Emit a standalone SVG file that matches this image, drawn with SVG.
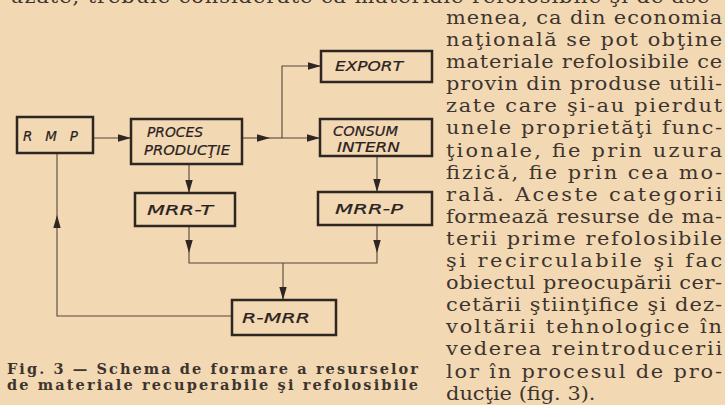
<svg xmlns="http://www.w3.org/2000/svg" width="725" height="405" viewBox="0 0 725 405">
<defs>
<style>
.bg{fill:#f2d9b4}
.box{fill:none;stroke:#2e2622;stroke-width:2.5}
.lbl{font-family:"DejaVu Sans",sans-serif;font-style:oblique;font-size:13.5px;fill:#2a221e;stroke:#2a221e;stroke-width:0.2}
.con{fill:none;stroke:#54463a;stroke-width:1.1}
.body{font-family:"DejaVu Serif",serif;font-size:19px;fill:#3e342e}
.cap{font-family:"DejaVu Serif",serif;font-weight:bold;font-size:14.5px;fill:#3e342e}
</style>
<marker id="ah" markerUnits="userSpaceOnUse" markerWidth="13" markerHeight="8" refX="13" refY="4" orient="auto">
<path d="M0,0.3 L13,4 L0,7.7 z" fill="#2e2622"/>
</marker>
</defs>
<rect class="bg" x="0" y="0" width="725" height="405"/>

<g id="connectors">
<path class="con" d="M93,138 L131,138" marker-end="url(#ah)"/>
<path class="con" d="M242,138 L270,138" marker-end="url(#ah)"/>
<path class="con" d="M270,138 L282,138"/>
<path class="con" d="M282,138 L320,138" marker-end="url(#ah)"/>
<path class="con" d="M282,138 L282,66 L321,66" marker-end="url(#ah)"/>
<path class="con" d="M189,164 L189,193" marker-end="url(#ah)"/>
<path class="con" d="M377,156 L377,192" marker-end="url(#ah)"/>
<path class="con" d="M189,226 L189,253" marker-end="url(#ah)"/>
<path class="con" d="M377,225 L377,253" marker-end="url(#ah)"/>
<path class="con" d="M189,253 L189,263 L377,263 L377,253"/>
<path class="con" d="M283,263 L283,300" marker-end="url(#ah)"/>
<path class="con" d="M232,316 L57,316 L57,215" marker-end="url(#ah)"/>
<path class="con" d="M57,215 L57,153"/>
</g>

<g id="rmp">
<rect class="box" x="17" y="117" width="76" height="36"/>
<text class="lbl" x="23" y="141" textLength="55" lengthAdjust="spacing">RMP</text>
</g>
<g id="proces">
<rect class="box" x="131" y="119" width="111" height="45"/>
<text class="lbl" x="147" y="137" textLength="56" lengthAdjust="spacingAndGlyphs">PROCES</text>
<text class="lbl" x="144" y="155" textLength="86" lengthAdjust="spacingAndGlyphs">PRODUCŢIE</text>
</g>
<g id="export">
<rect class="box" x="321" y="51" width="111" height="31"/>
<text class="lbl" x="335" y="71" textLength="68" lengthAdjust="spacingAndGlyphs">EXPORT</text>
</g>
<g id="consum">
<rect class="box" x="320" y="119" width="112" height="37"/>
<text class="lbl" x="333" y="136" textLength="65" lengthAdjust="spacingAndGlyphs">CONSUM</text>
<text class="lbl" x="337" y="152" textLength="63" lengthAdjust="spacingAndGlyphs">INTERN</text>
</g>
<g id="mrr-t">
<rect class="box" x="135" y="193" width="100" height="33"/>
<text class="lbl" x="147" y="215" textLength="66" lengthAdjust="spacingAndGlyphs">MRR-T</text>
</g>
<g id="mrr-p">
<rect class="box" x="318" y="192" width="114" height="33"/>
<text class="lbl" x="335" y="214" textLength="68" lengthAdjust="spacingAndGlyphs">MRR-P</text>
</g>
<g id="r-mrr">
<rect class="box" x="232" y="300" width="104" height="35"/>
<text class="lbl" x="242" y="323" textLength="68" lengthAdjust="spacingAndGlyphs">R-MRR</text>
</g>

<g id="caption">
<text class="cap" x="7" y="374" textLength="411" lengthAdjust="spacing">Fig. 3 — Schema de formare a resurselor</text>
<text class="cap" x="7" y="390" textLength="411" lengthAdjust="spacing">de materiale recuperabile şi refolosibile</text>
</g>

<g id="toptext" transform="translate(10,0) scale(1.1,1)">
<text class="body" x="0" y="3" textLength="643" lengthAdjust="spacing">uzate, trebuie considerate ca materiale refolosibile şi de ase-</text>
</g>

<g id="bodytext" transform="translate(446,0) scale(1.1,1)">
<text class="body" x="0" y="24" textLength="251" lengthAdjust="spacing">menea, ca din economia</text>
<text class="body" x="0" y="46.1" textLength="251" lengthAdjust="spacing">naţională se pot obţine</text>
<text class="body" x="0" y="68.2" textLength="251" lengthAdjust="spacing">materiale refolosibile ce</text>
<text class="body" x="0" y="90.3" textLength="251" lengthAdjust="spacing">provin din produse utili-</text>
<text class="body" x="0" y="112.4" textLength="251" lengthAdjust="spacing">zate care şi-au pierdut</text>
<text class="body" x="0" y="134.5" textLength="251" lengthAdjust="spacing">unele proprietăţi func-</text>
<text class="body" x="0" y="156.6" textLength="251" lengthAdjust="spacing">ţionale, fie prin uzura</text>
<text class="body" x="0" y="178.7" textLength="251" lengthAdjust="spacing">fizică, fie prin cea mo-</text>
<text class="body" x="0" y="200.8" textLength="251" lengthAdjust="spacing">rală. Aceste categorii</text>
<text class="body" x="0" y="222.9" textLength="251" lengthAdjust="spacing">formează resurse de ma-</text>
<text class="body" x="0" y="245" textLength="251" lengthAdjust="spacing">terii prime refolosibile</text>
<text class="body" x="0" y="267.1" textLength="251" lengthAdjust="spacing">şi recirculabile şi fac</text>
<text class="body" x="0" y="289.2" textLength="251" lengthAdjust="spacing">obiectul preocupării cer-</text>
<text class="body" x="0" y="311.3" textLength="251" lengthAdjust="spacing">cetării ştiinţifice şi dez-</text>
<text class="body" x="0" y="333.4" textLength="251" lengthAdjust="spacing">voltării tehnologice în</text>
<text class="body" x="0" y="355.5" textLength="251" lengthAdjust="spacing">vederea reintroducerii</text>
<text class="body" x="0" y="377.6" textLength="251" lengthAdjust="spacing">lor în procesul de pro-</text>
<text class="body" x="0" y="399.7">ducţie (fig. 3).</text>
</g>
</svg>
